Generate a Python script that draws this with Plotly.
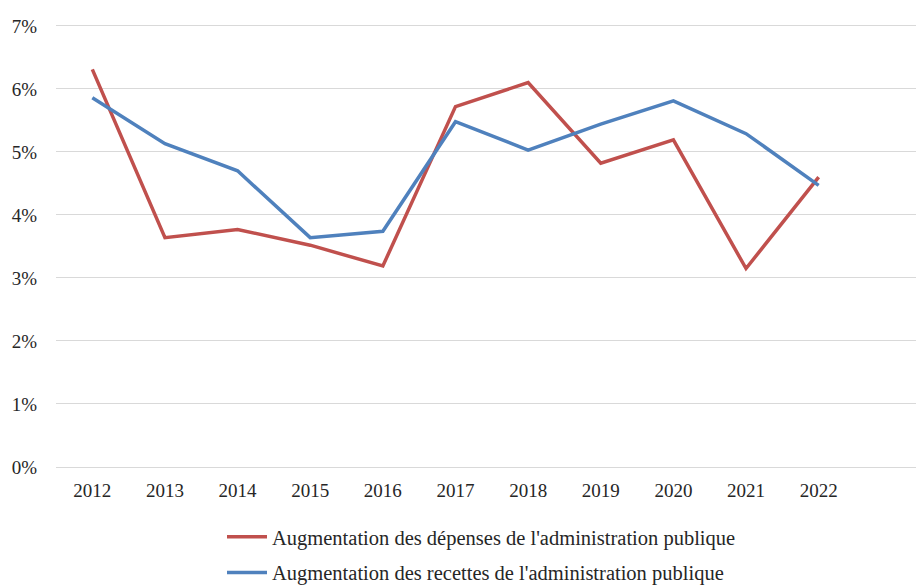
import plotly.graph_objects as go

years = ["2012", "2013", "2014", "2015", "2016", "2017", "2018", "2019", "2020", "2021", "2022"]
depenses = [6.31, 3.64, 3.77, 3.52, 3.19, 5.72, 6.10, 4.82, 5.19, 3.15, 4.60]
recettes = [5.86, 5.13, 4.70, 3.64, 3.74, 5.48, 5.03, 5.44, 5.81, 5.29, 4.47]
y_ticks = [0, 1, 2, 3, 4, 5, 6, 7]
y_ticklabels = ["0%", "1%", "2%", "3%", "4%", "5%", "6%", "7%"]

name_dep = "Augmentation des dépenses de l'administration publique"
name_rec = "Augmentation des recettes de l'administration publique"

FONT = "Liberation Serif, Times New Roman, serif"
TXT = "#262626"

fig = go.Figure()
fig.add_trace(go.Scatter(x=years, y=depenses, mode="lines", name=name_dep,
                         legendgroup="a",
                         line=dict(color="#C0504D", width=3.5)))
fig.add_trace(go.Scatter(x=years, y=recettes, mode="lines", name=name_rec,
                         legendgroup="b",
                         line=dict(color="#4F81BD", width=3.5)))

fig.update_layout(
    width=916, height=585,
    margin=dict(l=56, r=0, t=24, b=118, autoexpand=False),
    paper_bgcolor="white", plot_bgcolor="white",
    font=dict(family=FONT, size=19, color=TXT),
    showlegend=True,
    legend=dict(
        orientation="v",
        xref="container", yref="container",
        x=222 / 916, xanchor="left",
        y=1 - 517 / 585, yanchor="top",
        font=dict(family=FONT, size=20.5, color=TXT),
        tracegroupgap=6,
        itemwidth=40,
        bgcolor="rgba(0,0,0,0)",
    ),
    xaxis=dict(
        type="category",
        range=[-0.5, 11.34],
        showgrid=False, zeroline=False, showline=False,
        ticks="", ticklabelstandoff=10, tickangle=0,
        tickfont=dict(family=FONT, size=19, color=TXT),
    ),
    yaxis=dict(
        range=[0, 7.03],
        tickvals=y_ticks, ticktext=y_ticklabels,
        showgrid=True, gridcolor="#D9D9D9", gridwidth=1,
        zeroline=True, zerolinecolor="#D9D9D9", zerolinewidth=1,
        showline=False, ticks="", ticklabelstandoff=18,
        tickfont=dict(family=FONT, size=19, color=TXT),
    ),
)

fig.write_html("out.html",
               config={"displayModeBar": False},
               post_script="document.body.style.margin='0';document.body.style.overflow='hidden';")
